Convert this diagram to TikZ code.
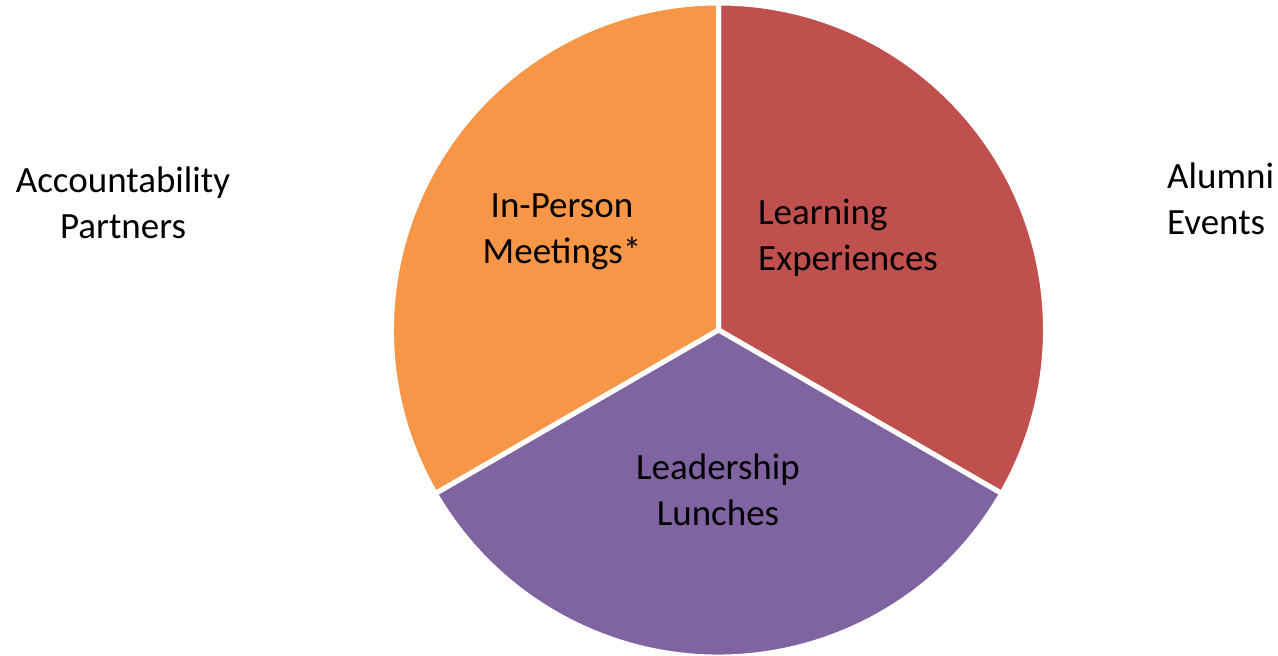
\documentclass[tikz,border=0pt]{standalone}
\usepackage{fontspec}
\setmainfont{Carlito}
\definecolor{sliceorange}{HTML}{F79646}
\definecolor{slicered}{HTML}{C0504D}
\definecolor{slicepurple}{HTML}{8064A2}
\begin{document}
\begin{tikzpicture}[x=1pt,y=1pt,
  slice/.style={draw=white,line width=5pt,line join=miter},
  lbl/.style={font=\fontsize{37}{46}\selectfont,text=black,inner sep=0pt}]
\useasboundingbox (0,0) rectangle (1278,656);
\coordinate (c) at (718.5,326);
\fill[white] (0,0) rectangle (1278,656);
\filldraw[slice,fill=slicered] (c) -- ++(90:327) arc (90:-30:327) -- cycle;
\filldraw[slice,fill=slicepurple] (c) -- ++(-30:327) arc (-30:-150:327) -- cycle;
\filldraw[slice,fill=sliceorange] (c) -- ++(210:327) arc (210:90:327) -- cycle;
\node[lbl,align=center] (inperson) at (562,424) {In-Person\\Meetings*};
\node[lbl,align=left,anchor=west] (learning) at (758,418) {Learning\\Experiences};
\node[lbl,align=center] (leadership) at (718,166) {Leadership\\Lunches};
\node[lbl,align=center] (account) at (123,453) {Accountability\\Partners};
\node[lbl,align=left,anchor=west] (alumni) at (1167,457) {Alumni\\Events};
\end{tikzpicture}
\end{document}
